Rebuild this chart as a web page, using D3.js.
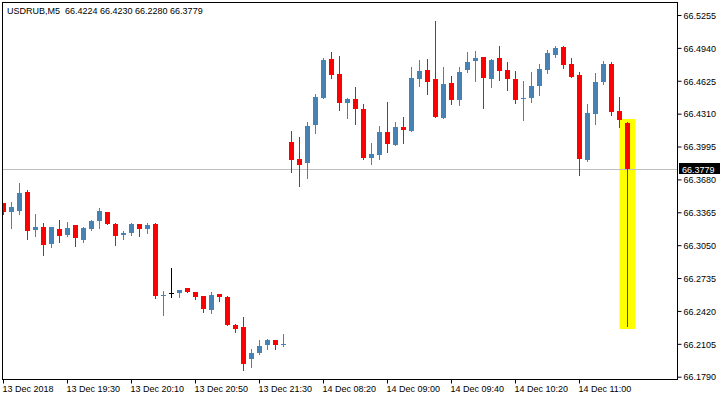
<!DOCTYPE html>
<html>
<head>
<meta charset="utf-8">
<script src="https://cdn.jsdelivr.net/npm/d3@7"></script>
<style>
html,body{margin:0;padding:0;background:#fff;}
svg{display:block;}
text{font-family:"Liberation Sans",Arial,sans-serif;font-size:9px;fill:#000;}
</style>
</head>
<body>
<svg id="chart" width="720" height="400"></svg>
<script>
const symbol = "USDRUB,M5";
const lastBar = {o: "66.4224", h: "66.4230", l: "66.2280", c: "66.3779"};
const currentPrice = 66.3779;

const open = [
66.3454, 66.3371, 66.3380, 66.3559, 66.3198, 66.3224, 66.3064, 66.3205, 66.3150, 66.3243,
66.3102, 66.3205, 66.3284, 66.3368, 66.3253, 66.3150, 66.3169, 66.3253, 66.3208, 66.3253,
66.2566, 66.2592, 66.2595, 66.2640, 66.2601, 66.2563, 66.2432, 66.2582, 66.2553, 66.2285,
66.2266, 66.1962, 66.2017, 66.2091, 66.2141, 66.2091, 66.4038, 66.3875, 66.3840, 66.4204,
66.4463, 66.4833, 66.4690, 66.4415, 66.4450, 66.4354, 66.3888, 66.3917, 66.4134, 66.4012,
66.4182, 66.4147, 66.4645, 66.4728, 66.4642, 66.4271, 66.4604, 66.4444, 66.4731, 66.4817,
66.4853, 66.4645, 66.4843, 66.4728, 66.4642, 66.4453, 66.4463, 66.4578, 66.4731, 66.4875,
66.4948, 66.4786, 66.4680, 66.3866, 66.4309, 66.4616, 66.4786, 66.4335, 66.4224];

const high = [
66.3454, 66.3464, 66.3646, 66.3578, 66.3349, 66.3262, 66.3224, 66.3291, 66.3272, 66.3243,
66.3224, 66.3291, 66.3406, 66.3368, 66.3262, 66.3189, 66.3265, 66.3253, 66.3262, 66.3262,
66.2614, 66.2831, 66.2620, 66.2640, 66.2601, 66.2563, 66.2601, 66.2582, 66.2566, 66.2295,
66.2362, 66.2055, 66.2141, 66.2151, 66.2141, 66.2199, 66.4144, 66.4089, 66.4230, 66.4498,
66.4843, 66.4901, 66.4862, 66.4463, 66.4565, 66.4402, 66.4029, 66.4192, 66.4422, 66.4230,
66.4278, 66.4757, 66.4824, 66.4833, 66.5198, 66.4757, 66.4671, 66.4757, 66.4901, 66.4910,
66.4853, 66.4833, 66.4958, 66.4805, 66.4719, 66.4623, 66.4709, 66.4786, 66.4920, 66.4958,
66.4958, 66.4843, 66.4709, 66.4402, 66.4699, 66.4814, 66.4805, 66.4469, 66.4230];

const low = [
66.3344, 66.3217, 66.3351, 66.3112, 66.3141, 66.2959, 66.3035, 66.3083, 66.3141, 66.3045,
66.3083, 66.3195, 66.3217, 66.3253, 66.3054, 66.3112, 66.3150, 66.3141, 66.3169, 66.2547,
66.2384, 66.2556, 66.2556, 66.2604, 66.2537, 66.2413, 66.2403, 66.2518, 66.2288, 66.2221,
66.1857, 66.1886, 66.2010, 66.2058, 66.2055, 66.2081, 66.3754, 66.3620, 66.3696, 66.4127,
66.4463, 66.4654, 66.4348, 66.4271, 66.4214, 66.3878, 66.3830, 66.3878, 66.3945, 66.4012,
66.4032, 66.4147, 66.4578, 66.4501, 66.4281, 66.4271, 66.4405, 66.4396, 66.4712, 66.4626,
66.4367, 66.4568, 66.4635, 66.4539, 66.4415, 66.4252, 66.4424, 66.4491, 66.4702, 66.4856,
66.4750, 66.4664, 66.3725, 66.3856, 66.4214, 66.4597, 66.4300, 66.4185, 66.2280];

const close = [
66.3368, 66.3416, 66.3550, 66.3189, 66.3224, 66.3054, 66.3224, 66.3141, 66.3214, 66.3122,
66.3214, 66.3282, 66.3377, 66.3256, 66.3141, 66.3169, 66.3256, 66.3208, 66.3243, 66.2566,
66.2573, 66.2592, 66.2620, 66.2604, 66.2556, 66.2441, 66.2573, 66.2556, 66.2288, 66.2250,
66.1914, 66.2017, 66.2084, 66.2141, 66.2091, 66.2103, 66.3869, 66.3821, 66.4192, 66.4469,
66.4824, 66.4683, 66.4415, 66.4453, 66.4357, 66.3888, 66.3923, 66.4134, 66.4022, 66.4182,
66.4156, 66.4651, 66.4719, 66.4616, 66.4281, 66.4594, 66.4444, 66.4709, 66.4805, 66.4843,
66.4654, 66.4824, 66.4721, 66.4645, 66.4444, 66.4457, 66.4575, 66.4738, 66.4891, 66.4939,
66.4779, 66.4664, 66.3878, 66.4316, 66.4613, 66.4786, 66.4329, 66.4252, 66.3779];

const priceTicks = ["66.1790","66.2105","66.2420","66.2735","66.3050","66.3365","66.3680","66.3995","66.4310","66.4625","66.4940","66.5255"];
const timeTickIndex = [0, 8, 16, 24, 32, 40, 48, 56, 64, 72];
const timeTickLabels = ["13 Dec 2018","13 Dec 19:30","13 Dec 20:10","13 Dec 20:50","13 Dec 21:30","14 Dec 08:20","14 Dec 09:00","14 Dec 09:40","14 Dec 10:20","14 Dec 11:00"];
const highlightIndex = 78;

const svg = d3.select("#chart");
const plot = {left: 2, top: 2, right: 677, bottom: 379};

const x = d3.scaleLinear().domain([0, open.length - 1]).range([3.5, 3.5 + 8 * (open.length - 1)]);
const y = d3.scaleLinear().domain([+priceTicks[0], +priceTicks[priceTicks.length - 1]]).range([376.7, 15]);

const bull = "#4682B4", bear = "#FF0000", doji = "#000000";

// clip for candles
svg.append("defs").append("clipPath").attr("id","clip")
  .append("rect").attr("x", plot.left + 0.5).attr("y", plot.top + 0.5)
  .attr("width", plot.right - plot.left - 0.5).attr("height", plot.bottom - plot.top - 0.5);

const g = svg.append("g").attr("clip-path","url(#clip)");

// highlight rectangle around last bar
const hx = x(highlightIndex);
g.append("rect")
  .attr("x", hx - 8).attr("width", 16)
  .attr("y", Math.round(y(high[highlightIndex])) - 3)
  .attr("height", Math.round(y(low[highlightIndex])) - Math.round(y(high[highlightIndex])) + 6)
  .attr("fill", "#FFFF00");

// current price line
const py = Math.round(y(currentPrice)) + 0.5;
g.append("line").attr("x1", plot.left).attr("x2", plot.right)
  .attr("y1", py).attr("y2", py).attr("stroke", "#C0C0C0").attr("stroke-width", 1);

const data = open.map((o, i) => ({i, o, h: high[i], l: low[i], c: close[i]}));
const col = d => d.c > d.o ? bull : (d.c < d.o ? bear : doji);

const cg = g.selectAll("g.candle").data(data).join("g").attr("class","candle");
cg.append("rect")
  .attr("x", d => Math.floor(x(d.i)))
  .attr("width", 1)
  .attr("y", d => Math.round(y(d.h)))
  .attr("height", d => Math.max(1, Math.round(y(d.l)) - Math.round(y(d.h)) + 1))
  .attr("fill", col);
cg.append("rect")
  .attr("x", d => Math.floor(x(d.i)) - 2)
  .attr("width", 5)
  .attr("y", d => Math.round(y(Math.max(d.o, d.c))))
  .attr("height", d => Math.max(1, Math.round(y(Math.min(d.o, d.c))) - Math.round(y(Math.max(d.o, d.c)))))
  .attr("fill", col);

// frame
svg.append("rect").attr("x", plot.left + 0.5).attr("y", plot.top + 0.5)
  .attr("width", plot.right - plot.left).attr("height", plot.bottom - plot.top)
  .attr("fill","none").attr("stroke","#000").attr("stroke-width",1);

// right price axis
const yAxis = d3.axisRight(y)
  .tickValues(priceTicks.map(Number))
  .tickFormat((d, i) => priceTicks[i])
  .tickSize(4).tickPadding(2);
const ya = svg.append("g").attr("transform", `translate(${plot.right + 0.5},0)`).call(yAxis);
ya.select(".domain").remove();
ya.selectAll(".tick line").attr("stroke","#000");
ya.selectAll(".tick text").attr("font-family","Liberation Sans, Arial, sans-serif").attr("font-size",9).attr("fill","#000").attr("dy","0.36em");

// bottom time axis
const xAxis = d3.axisBottom(x)
  .tickValues(timeTickIndex)
  .tickFormat((d, i) => timeTickLabels[i])
  .tickSize(4).tickPadding(2);
const xa = svg.append("g").attr("transform", `translate(0,${plot.bottom + 0.5})`).call(xAxis);
xa.select(".domain").remove();
xa.selectAll(".tick").attr("transform", d => `translate(${Math.floor(x(d)) + 0.5},0)`);
xa.selectAll(".tick line").attr("stroke","#000");
xa.selectAll(".tick text").attr("text-anchor","start").attr("x", -1)
  .attr("font-family","Liberation Sans, Arial, sans-serif").attr("font-size",9).attr("fill","#000");

// current price label
svg.append("rect").attr("x", plot.right + 2).attr("y", py - 6.5).attr("width", 720 - plot.right - 2).attr("height", 11).attr("fill","#000");
svg.append("text").attr("x", plot.right + 5).attr("y", py).attr("dy","0.36em")
  .style("fill","#fff").text(currentPrice.toFixed(4));

// title
svg.append("text").attr("x", 7).attr("y", 14)
  .text(`${symbol}  ${lastBar.o} ${lastBar.h} ${lastBar.l} ${lastBar.c}`)
  .attr("xml:space","preserve").style("white-space","pre");
</script>
</body>
</html>
